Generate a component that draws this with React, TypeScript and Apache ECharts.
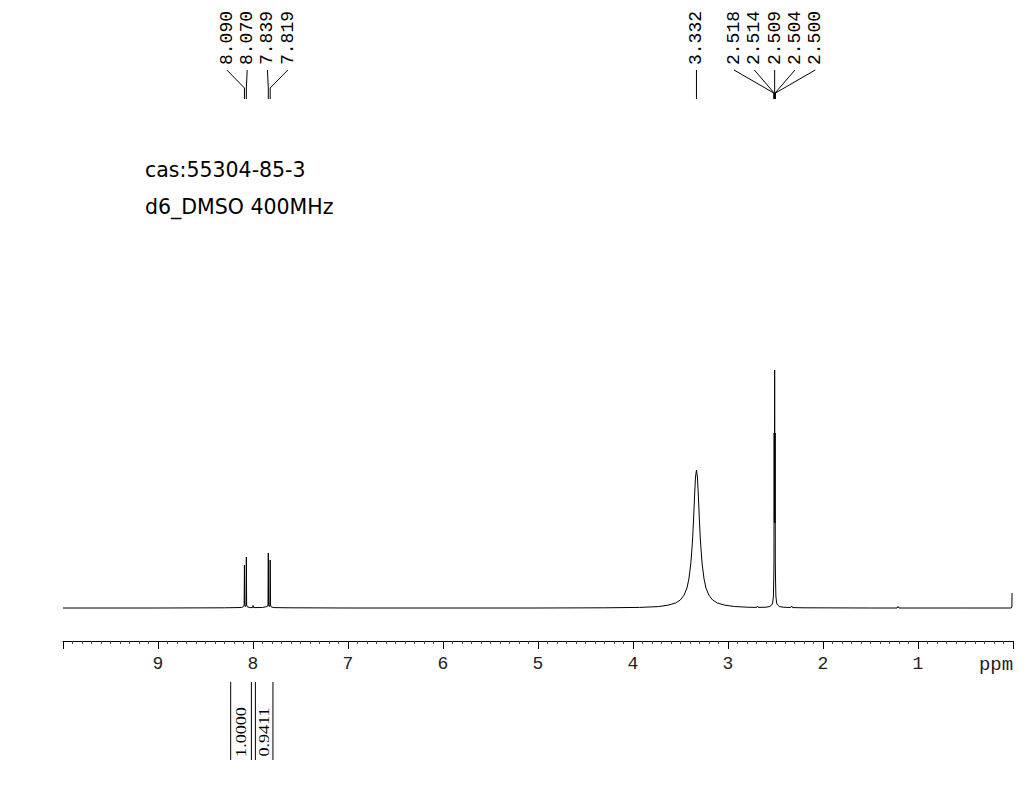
import React, { useEffect, useRef } from "react";
import * as echarts from "echarts";

// ---------- data (ppm, intensity above baseline) ----------
const axisTickValues = [10, 9, 8, 7, 6, 5, 4, 3, 2, 1, 0];

const spectrumAromatic: [number, number][] = [
  [10.0, 0], [9.0, 0], [8.3, 0.2], [8.12, 0.5], [8.098, 1.5], [8.093, 3],
  [8.09, 43], [8.087, 3], [8.08, 1.5], [8.073, 3], [8.07, 51], [8.067, 3],
  [8.06, 1.2], [8.03, 0.4], [8.005, 0.4], [8.0, 2.5], [7.995, 0.4], [7.9, 0.5],
  [7.85, 1.5], [7.842, 3], [7.839, 55], [7.836, 3], [7.829, 1.5], [7.822, 3],
  [7.819, 48], [7.816, 3], [7.81, 1.2], [7.78, 0.4], [7.6, 0.2], [7.0, 0],
  [6.0, 0], [5.0, 0],
];

const spectrumWater: [number, number][] = [
  [4.3, 0.2], [3.932, 0.6], [3.732, 1.4], [3.632, 2.8], [3.552, 5], [3.502, 8],
  [3.462, 13], [3.432, 20], [3.412, 29], [3.392, 44], [3.382, 56], [3.372, 70],
  [3.362, 90], [3.352, 112], [3.342, 131], [3.332, 138], [3.322, 131],
  [3.312, 112], [3.302, 90], [3.292, 70], [3.282, 56], [3.272, 44], [3.252, 29],
  [3.232, 20], [3.202, 13], [3.162, 8], [3.112, 5], [3.032, 2.8], [2.932, 1.5],
  [2.8, 0.8], [2.70, 0.6], [2.69, 2], [2.68, 0.6],
];

const spectrumDmso: [number, number][] = [
  [2.6, 0.8], [2.56, 1.5], [2.54, 3], [2.53, 5], [2.522, 12], [2.518, 30],
  [2.516, 45], [2.514, 175], [2.5115, 85], [2.509, 238], [2.5065, 85],
  [2.504, 175], [2.502, 45], [2.5, 30], [2.496, 12], [2.488, 5], [2.478, 3],
  [2.46, 1.5], [2.42, 0.8], [2.34, 0.5], [2.33, 2], [2.32, 0.4], [2.2, 0.2],
];

const spectrumUpfield: [number, number][] = [
  [1.5, 0], [1.22, 0], [1.21, 1.5], [1.2, 0], [0.5, 0], [0.02, 0], [0.012, 1],
  [0.01, 15],
];

const peakGroups = [
  { labels: ["8.090", "8.070", "7.839", "7.819"], ppm: [8.09, 8.07, 7.839, 7.819] },
  { labels: ["3.332"], ppm: [3.332] },
  {
    labels: ["2.518", "2.514", "2.509", "2.504", "2.500"],
    ppm: [2.518, 2.514, 2.509, 2.504, 2.5],
  },
];

const integralRanges: [number, number][] = [
  [8.235, 8.017],
  [7.975, 7.79],
];
const integralValues = ["1.0000", "0.9411"];

const titleLines = ["cas:55304-85-3", "d6_DMSO 400MHz"];

// ---------- component ----------
export default function App() {
  const ref = useRef<HTMLDivElement | null>(null);

  useEffect(() => {
    if (!ref.current) return;
    const chart = echarts.init(ref.current, null, { renderer: "svg" });
    const spectrum = [
      ...spectrumAromatic,
      ...spectrumWater,
      ...spectrumDmso,
      ...spectrumUpfield,
    ];

    const mono = '"Liberation Mono", "DejaVu Sans Mono", monospace';

    chart.setOption({
      animation: false,
      backgroundColor: "#fff",
      title: {
        text: titleLines.join("\n"),
        left: 145,
        top: 151,
        padding: 0,
        textStyle: {
          fontFamily: '"DejaVu Sans", "Noto Sans", sans-serif',
          fontSize: 20.5,
          lineHeight: 37,
          fontWeight: "normal",
          color: "#000",
        },
      },
      grid: { left: 63, right: 23, top: 341, bottom: 147 },
      xAxis: {
        type: "value",
        min: axisTickValues[axisTickValues.length - 1],
        max: axisTickValues[0],
        interval: 1,
        inverse: true,
        axisLine: { onZero: false, lineStyle: { color: "#000", width: 1 } },
        axisTick: { show: true, length: 8, lineStyle: { color: "#000" } },
        minorTick: { show: true, splitNumber: 10, length: 3, lineStyle: { color: "#444" } },
        splitLine: { show: false },
        axisLabel: {
          margin: 14,
          fontSize: 18,
          fontFamily: mono,
          color: "#222",
          showMinLabel: true,
          showMaxLabel: true,
          formatter: (v: number) =>
            v === 10 ? "" : v === 0 ? "{ppm|ppm}" : String(v),
          rich: {
            ppm: { fontSize: 19, fontFamily: mono, color: "#222", padding: [0, 34, 0, 0] },
          },
        },
      },
      yAxis: { type: "value", min: -33, max: 267, show: false },
      series: [
        {
          type: "line",
          data: spectrum,
          symbol: "none",
          showSymbol: false,
          silent: true,
          lineStyle: { color: "#000", width: 1 },
        },
      ],
    });

    const px = (ppm: number) =>
      chart.convertToPixel({ xAxisIndex: 0 }, ppm) as number;

    const graphics: any[] = [];
    const spacing = 20.3;
    peakGroups.forEach((g, gi) => {
      const xs = g.ppm.map(px);
      const mean = xs.reduce((a, b) => a + b, 0) / xs.length;
      const n = xs.length;
      const bendY = gi === 2 ? 93 : 88;
      g.labels.forEach((lab, i) => {
        const slot = mean + (i - (n - 1) / 2) * spacing;
        graphics.push({
          type: "text",
          x: slot,
          y: 65,
          rotation: Math.PI / 2,
          silent: true,
          style: {
            text: lab,
            fontSize: 18,
            fontFamily: mono,
            fill: "#000",
            align: "left",
            verticalAlign: "middle",
          },
        });
        graphics.push({
          type: "polyline",
          silent: true,
          shape: {
            points: [
              [slot, 70],
              [xs[i], bendY],
              [xs[i], 99],
            ],
          },
          style: { stroke: "#000", lineWidth: 1, fill: "none" },
        });
      });
    });

    integralRanges.forEach((r, i) => {
      const a = px(r[0]);
      const b = px(r[1]);
      [a, b].forEach((x) => {
        graphics.push({
          type: "line",
          silent: true,
          shape: { x1: x, y1: 682, x2: x, y2: 760 },
          style: { stroke: "#000", lineWidth: 1 },
        });
      });
      graphics.push({
        type: "text",
        x: (a + b) / 2,
        y: 732,
        rotation: Math.PI / 2,
        scaleX: 1.25,
        silent: true,
        style: {
          text: integralValues[i],
          fontSize: 14.5,
          fontFamily: '"Liberation Serif", "DejaVu Serif", serif',
          fill: "#000",
          align: "center",
          verticalAlign: "middle",
        },
      });
    });

    chart.setOption({ graphic: graphics });

    return () => chart.dispose();
  }, []);

  return (
    <div
      ref={ref}
      style={{ position: "fixed", left: 0, top: 0, width: 1036, height: 788, background: "#fff" }}
    />
  );
}
